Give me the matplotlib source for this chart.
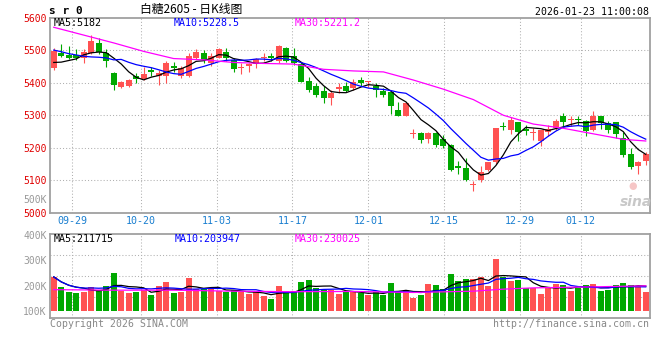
import numpy as np
import pandas as pd
import matplotlib
matplotlib.use('Agg')
import matplotlib.pyplot as plt
from matplotlib.transforms import blended_transform_factory

# 日K数据 (从图上读出, 80根K线)
opens = [5445, 5492, 5486, 5485, 5475, 5491, 5521, 5490, 5431, 5388,
         5390, 5421, 5411, 5438, 5421, 5420, 5452, 5420, 5420, 5477,
         5492, 5460, 5477, 5493, 5471, 5446, 5451, 5456, 5477, 5482,
         5465, 5507, 5482, 5456, 5405, 5390, 5375, 5352, 5381, 5390,
         5383, 5408, 5401, 5390, 5375, 5370, 5316, 5299, 5242, 5247,
         5228, 5245, 5227, 5210, 5143, 5138, 5085, 5100, 5131, 5155,
         5268, 5255, 5278, 5257, 5247, 5221, 5250, 5260, 5298, 5285,
         5288, 5283, 5255, 5298, 5276, 5278, 5230, 5181, 5143, 5160]
closes = [5497, 5483, 5477, 5477, 5493, 5528, 5495, 5468, 5393, 5403,
          5408, 5411, 5428, 5434, 5429, 5459, 5445, 5446, 5482, 5495,
          5469, 5482, 5502, 5475, 5441, 5449, 5456, 5474, 5480, 5475,
          5512, 5466, 5460, 5403, 5378, 5362, 5352, 5369, 5388, 5375,
          5403, 5398, 5405, 5378, 5362, 5327, 5299, 5339, 5245, 5223,
          5247, 5209, 5205, 5131, 5138, 5100, 5087, 5126, 5155, 5260,
          5265, 5286, 5250, 5253, 5250, 5255, 5257, 5281, 5278, 5288,
          5284, 5253, 5298, 5276, 5255, 5242, 5178, 5141, 5158, 5181]
highs = [5506, 5518, 5511, 5503, 5503, 5546, 5537, 5502, 5434, 5406,
         5410, 5431, 5449, 5448, 5438, 5465, 5462, 5451, 5492, 5502,
         5500, 5492, 5507, 5507, 5477, 5461, 5461, 5477, 5492, 5490,
         5515, 5510, 5505, 5464, 5418, 5398, 5390, 5378, 5398, 5403,
         5410, 5418, 5406, 5398, 5383, 5378, 5340, 5342, 5257, 5250,
         5248, 5250, 5240, 5212, 5161, 5168, 5099, 5143, 5156, 5261,
         5279, 5296, 5280, 5270, 5262, 5256, 5270, 5289, 5308, 5298,
         5298, 5284, 5313, 5299, 5283, 5280, 5250, 5199, 5159, 5186]
lows = [5438, 5479, 5474, 5470, 5460, 5489, 5488, 5449, 5378, 5385,
        5388, 5400, 5407, 5420, 5393, 5398, 5433, 5413, 5418, 5474,
        5459, 5452, 5475, 5466, 5432, 5426, 5434, 5446, 5465, 5466,
        5459, 5464, 5454, 5402, 5370, 5357, 5337, 5332, 5369, 5372,
        5378, 5390, 5388, 5357, 5357, 5304, 5298, 5298, 5230, 5214,
        5214, 5204, 5199, 5130, 5120, 5097, 5069, 5094, 5130, 5151,
        5255, 5243, 5221, 5238, 5224, 5206, 5235, 5255, 5263, 5267,
        5270, 5235, 5253, 5257, 5245, 5230, 5173, 5135, 5120, 5148]
# 成交量 (K)
volumes_k = [234, 195, 175, 171, 175, 195, 182, 199, 249, 179,
             171, 175, 182, 162, 199, 214, 171, 175, 228, 186,
             186, 186, 180, 175, 182, 173, 166, 175, 160, 148,
             199, 178, 180, 214, 221, 191, 184, 182, 167, 175,
             175, 169, 162, 175, 165, 210, 175, 182, 152, 162,
             206, 201, 188, 244, 217, 225, 225, 232, 199, 306,
             234, 218, 221, 191, 191, 166, 195, 208, 201, 179,
             191, 201, 206, 178, 184, 201, 210, 204, 199, 175]

# 均线开头 (需要更早的数据, 直接从图上读)
ma5_head = [5462, 5463, 5468, 5473]
ma10_head = [5500, 5495, 5489, 5485, 5481, 5479, 5478, 5476, 5470]
ma30_idx = [0, 4, 8, 12, 16, 20, 24, 28, 32, 36, 40, 44, 48, 52, 56, 60, 64, 68, 72, 76, 79]
ma30_val = [5570, 5546, 5522, 5496, 5474, 5470, 5462, 5459, 5457, 5441, 5436,
            5433, 5408, 5380, 5348, 5300, 5273, 5260, 5243, 5226, 5221]
vol_ma30_idx = [0, 8, 16, 24, 32, 40, 48, 56, 60, 64, 72, 79]
vol_ma30_k = [184, 182, 182, 178, 176, 177, 173, 178, 186, 191, 195, 199]

tick_idx = [3, 12, 22, 32, 42, 52, 62, 70]
tick_labels = ['09-29', '10-20', '11-03', '11-17', '12-01', '12-15', '12-29', '01-12']
price_ticks = [5000, 5100, 5200, 5300, 5400, 5500, 5600]
vol_ticks = [100, 200, 300, 400]

RED = '#ff5252'
GREEN = '#00a800'
GRID = '#b0b0b0'
BORDER = '#a0a0a0'
MONO = 'DejaVu Sans Mono'

o = np.array(opens, float)
c = np.array(closes, float)
h = np.array(highs, float)
l = np.array(lows, float)
v = np.array(volumes_k, float) * 1000
x = np.arange(len(c))
cols = np.where(c >= o, RED, GREEN)

ma5 = pd.Series(c).rolling(5).mean().to_numpy()
ma5[:4] = ma5_head
ma10 = pd.Series(c).rolling(10).mean().to_numpy()
ma10[:9] = ma10_head
vma5 = pd.Series(v).rolling(5, min_periods=1).mean()
vma10 = pd.Series(v).rolling(10, min_periods=1).mean()

W, H = 660, 360
fig = plt.figure(figsize=(6.6, 3.6), dpi=100)
fx = lambda px: px / W
fy = lambda py: 1 - py / H

ax = fig.add_axes([fx(50), fy(213), 599.5 / W, 195.5 / H])
axv = fig.add_axes([fx(50), fy(318), 599.5 / W, 84 / H])

# 日期网格线位置
grid_x = [i * 1.0125 - 0.55 for i in tick_idx]

for a in (ax, axv):
    a.set_xlim(-0.5, len(c) - 0.5)
    a.set_xticks([])
    for s in a.spines.values():
        s.set_color(BORDER)
        s.set_linewidth(1.3)
    for gx in grid_x:
        a.axvline(gx, color=GRID, lw=0.75, ls=(0, (1, 2)), zorder=0)
    a.tick_params(axis='y', length=0, pad=2.5)

# K线
ax.vlines(x, l, h, colors=cols, lw=0.8, zorder=2)
ax.bar(x, np.maximum(np.abs(c - o), 2.5), bottom=np.minimum(o, c), width=0.8,
       color=cols, linewidth=0, zorder=2.5)
ax.plot(x, ma5, color='black', lw=0.9, zorder=3)
ax.plot(x, ma10, color='#0000ff', lw=0.9, zorder=3)
ax.plot(ma30_idx, ma30_val, color='#ff00ff', lw=0.9, zorder=3)
ax.set_ylim(5000, 5600)
ax.set_yticks(price_ticks)
ax.set_yticklabels([str(t) for t in price_ticks], color='#e00000', family=MONO, fontsize=7)
for t in price_ticks[1:-1]:
    ax.axhline(t, color=GRID, lw=0.75, ls=(0, (1, 2)), zorder=0)

# 成交量
vol_base = 100000
axv.bar(x, v - vol_base, bottom=vol_base, width=0.8, color=cols, linewidth=0, zorder=2)
axv.plot(x, vma5, color='black', lw=0.9, zorder=3)
axv.plot(x, vma10, color='#0000ff', lw=0.9, zorder=3)
axv.plot(vol_ma30_idx, np.array(vol_ma30_k) * 1000, color='#ff00ff', lw=0.9, zorder=3)
axv.set_ylim(73000, 402000)
axv.set_yticks([t * 1000 for t in vol_ticks])
axv.set_yticklabels([f'{t}K' for t in vol_ticks], color='#999999', family=MONO, fontsize=7)
lo, hi = axv.get_ylim()
for k in (1, 2, 3):
    axv.axhline(lo + (hi - lo) * k / 4, color=GRID, lw=0.75, ls=(0, (1, 2)), zorder=0)

# 日期标签
tr = blended_transform_factory(ax.transData, fig.transFigure)
for gx, lab in zip(grid_x, tick_labels):
    ax.text(gx, fy(221.5), lab, transform=tr, ha='center', va='center',
            color='#1a7fd0', family=MONO, fontsize=7.2)

# 文字
fig.text(fx(49), fy(11), 's r 0', family=MONO, weight='bold', fontsize=8, va='center')
fig.text(fx(140), fy(9), '白糖2605 - 日K线图', family=['Noto Sans CJK SC', 'DejaVu Sans'],
         fontsize=8.5, va='center')
fig.text(fx(649), fy(12), '2026-01-23 11:00:08', family=MONO, fontsize=7.1, ha='right', va='center')
fig.text(fx(54), fy(23.5), 'MA5:5182', family=MONO, fontsize=7.2, va='center', color='black')
fig.text(fx(174), fy(23.5), 'MA10:5228.5', family=MONO, fontsize=7.2, va='center', color='#0000ff')
fig.text(fx(295), fy(23.5), 'MA30:5221.2', family=MONO, fontsize=7.2, va='center', color='#ff00ff')
fig.text(fx(54), fy(238.5), 'MA5:211715', family=MONO, fontsize=7.2, va='center', color='black')
fig.text(fx(175), fy(238.5), 'MA10:203947', family=MONO, fontsize=7.2, va='center', color='#0000ff')
fig.text(fx(295), fy(238.5), 'MA30:230025', family=MONO, fontsize=7.2, va='center', color='#ff00ff')
fig.text(fx(46.5), fy(200), '500K', family=MONO, fontsize=7, ha='right', va='center', color='#999999')
fig.text(fx(50), fy(324), 'Copyright 2026 SINA.COM', family=MONO, fontsize=7.1, va='center', color='#888888')
fig.text(fx(649), fy(324), 'http://finance.sina.com.cn', family=MONO, fontsize=7.1,
         ha='right', va='center', color='#888888')

# sina 水印
fig.text(fx(633), fy(186), '●', fontsize=7, ha='center', va='center', color='#f4b8b8', alpha=0.8)
fig.text(fx(636), fy(202), 'sina', fontsize=10, style='italic', weight='bold',
         ha='center', va='center', color='#c8c8c8')

fig.savefig('out.png', dpi=100)
